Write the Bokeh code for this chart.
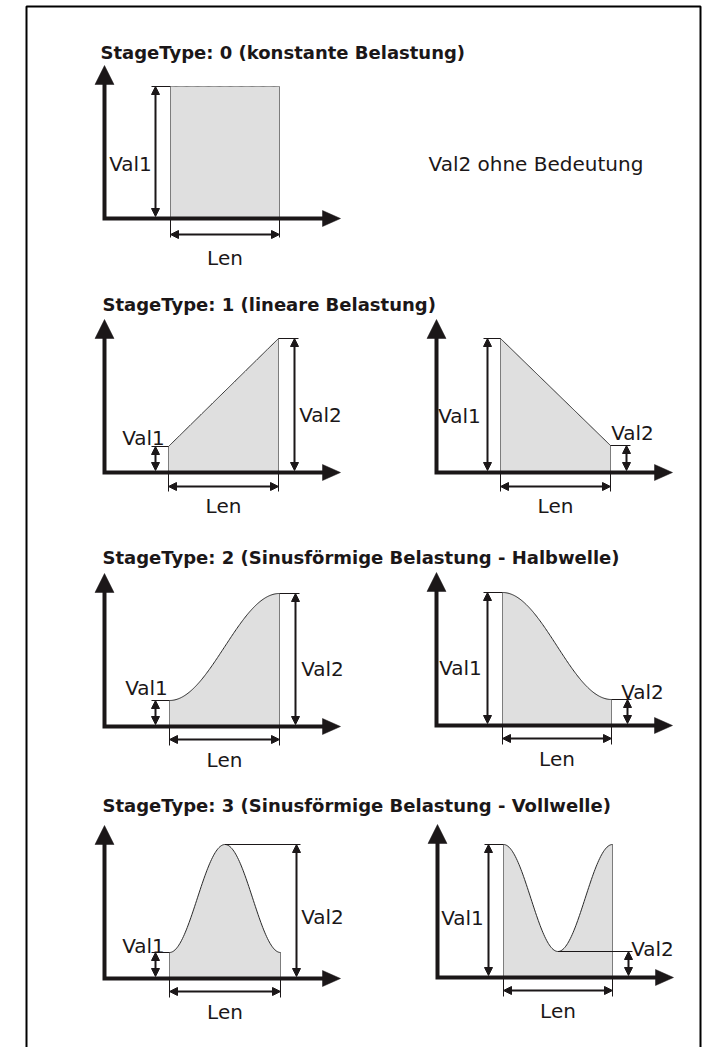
import numpy as np
from bokeh.plotting import figure
from bokeh.models import Range1d, Arrow, NormalHead, ColumnDataSource
from bokeh.core.properties import value
from bokeh.embed import file_html
from bokeh.resources import INLINE

# ---------------- data ----------------
stage_titles = [
    "StageType: 0 (konstante Belastung)",
    "StageType: 1 (lineare Belastung)",
    "StageType: 2 (Sinusförmige Belastung - Halbwelle)",
    "StageType: 3 (Sinusförmige Belastung - Vollwelle)",
]
note_text = "Val2 ohne Bedeutung"
label_val1 = "Val1"
label_val2 = "Val2"
label_len = "Len"

# one entry per small diagram (stage 0; stage 1 rising/falling; stage 2 rising/falling; stage 3 peak/trough)
panel_type = [0, 1, 1, 2, 2, 3, 3]
panel_val1 = [132, 26, 134, 26, 133, 26, 133]
panel_val2 = [None, 134, 27, 133, 26, 134, 26]   # stage 0: Val2 ohne Bedeutung
panel_start = [66, 64, 64, 65, 66, 65, 66]
panel_len = [109, 110, 110, 110, 109, 111, 109]

# ---------------- layout (pixel positions) ----------------
W, H = 715, 1047
origin_x = [104, 104, 436, 104, 436, 104, 437]
axis_y = [218, 472, 472, 726, 725, 978, 977]
title_pos = [(100, 52), (102, 304), (102, 557), (102, 805)]
note_pos = (428, 163)
val1_lab = [(130, 163), (143, 437), (459, 415), (146, 687), (460, 667), (143, 945), (462, 917)]
val2_lab = [None, (320, 414), (632, 432), (322, 668), (642, 691), (322, 916), (652, 948)]
len_lab_y = [257, 505, 505, 759, 758, 1011, 1010]
len_arrow_dy = [16, 14, 14, 13, 13, 13, 13]
Y_AXIS_LEN, X_AXIS_LEN = 153, 236
DIM1_DX, DIM2_DX = 51, 16

FONT = value("DejaVu Sans")
INK = "#1b1718"

p = figure(width=W, height=H, x_range=Range1d(0, W), y_range=Range1d(H, 0),
           x_axis_type=None, y_axis_type=None, toolbar_location=None,
           output_backend="svg", min_border=0, outline_line_color=None,
           background_fill_color="white", border_fill_color="white")

# outer frame
p.line([26, 26, 700, 700], [1060, 6, 6, 1060], line_color="black", line_width=2)

# titles
p.text(x=[t[0] for t in title_pos], y=[t[1] for t in title_pos], text=stage_titles,
       text_font=FONT, text_font_size="18px", text_font_style="bold",
       text_color=INK, text_baseline="alphabetic", text_align="left")
p.text(x=[note_pos[0]], y=[note_pos[1]], text=[note_text], text_font=FONT,
       text_font_size="20px", text_color=INK, text_baseline="alphabetic", text_align="left")


def profile(kind, v1, v2, t):
    if kind == 0:
        return np.full_like(t, float(v1))
    if kind == 1:
        return v1 + (v2 - v1) * t
    if kind == 2:
        return v1 + (v2 - v1) * (1 - np.cos(np.pi * t)) / 2
    return v1 + (v2 - v1) * (1 - np.cos(2 * np.pi * t)) / 2


dims = dict(x0=[], y0=[], x1=[], y1=[])
ext = dict(xs=[], ys=[])
lab = dict(x=[], y=[], text=[])

for i, kind in enumerate(panel_type):
    ox, ay = origin_x[i], axis_y[i]
    v1, v2 = panel_val1[i], panel_val2[i]
    s, L = panel_start[i], panel_len[i]
    t = np.linspace(0, 1, 120)
    vv = profile(kind, v1, v2 if v2 is not None else v1, t)
    cx = ox + s + L * t
    cy = ay - vv
    x0, x1 = ox + s, ox + s + L

    # shaded load area
    p.patch(np.concatenate([[x0], cx, [x1]]), np.concatenate([[ay], cy, [ay]]),
            fill_color="#dfdfdf", line_color=None)
    p.line([x0, x0], [ay, cy[0]], line_color="#7d7d7d", line_width=1)
    p.line([x1, x1], [ay, cy[-1]], line_color="#7d7d7d", line_width=1)
    p.line(cx, cy, line_color="#7d7d7d" if kind == 0 else "#2a2a2a", line_width=1)

    # axes (L-shape + arrow heads)
    p.line([ox, ox, ox + X_AXIS_LEN - 17], [ay - Y_AXIS_LEN + 17, ay, ay],
           line_color=INK, line_width=4, line_join="miter")
    p.patch([ox, ox - 9.5, ox + 9.5], [ay - Y_AXIS_LEN, ay - Y_AXIS_LEN + 19, ay - Y_AXIS_LEN + 19],
            fill_color=INK, line_color=INK, line_width=0.5)
    p.patch([ox + X_AXIS_LEN, ox + X_AXIS_LEN - 18, ox + X_AXIS_LEN - 18], [ay, ay - 8, ay + 8],
            fill_color=INK, line_color=INK, line_width=0.5)

    # Val1 dimension
    d1 = ox + DIM1_DX
    dims["x0"].append(d1); dims["y0"].append(ay - 2)
    dims["x1"].append(d1); dims["y1"].append(ay - v1)
    ext["xs"].append([d1 - 4, x0]); ext["ys"].append([ay - v1, ay - v1])
    lab["x"].append(val1_lab[i][0]); lab["y"].append(val1_lab[i][1]); lab["text"].append(label_val1)

    # Val2 dimension
    if v2 is not None:
        d2 = x1 + DIM2_DX
        ix = ox + s + L * 0.5 if kind == 3 else x1
        dims["x0"].append(d2); dims["y0"].append(ay - 2)
        dims["x1"].append(d2); dims["y1"].append(ay - v2)
        ext["xs"].append([ix, d2 + 4]); ext["ys"].append([ay - v2, ay - v2])
        lab["x"].append(val2_lab[i][0]); lab["y"].append(val2_lab[i][1]); lab["text"].append(label_val2)

    # Len dimension
    ly = ay + len_arrow_dy[i]
    dims["x0"].append(x0); dims["y0"].append(ly)
    dims["x1"].append(x1); dims["y1"].append(ly)
    ext["xs"].append([x0, x0]); ext["ys"].append([ay, ay + 19])
    ext["xs"].append([x1, x1]); ext["ys"].append([ay, ay + 19])
    lab["x"].append(ox + s + L / 2); lab["y"].append(len_lab_y[i]); lab["text"].append(label_len)

p.multi_line(xs=ext["xs"], ys=ext["ys"], line_color=INK, line_width=1)

dim_src = ColumnDataSource(dims)
p.add_layout(Arrow(x_start="x0", y_start="y0", x_end="x1", y_end="y1", source=dim_src,
                   line_color=INK, line_width=2,
                   start=NormalHead(size=8, fill_color=INK, line_color=INK, line_width=1),
                   end=NormalHead(size=8, fill_color=INK, line_color=INK, line_width=1)))

p.text(x="x", y="y", text="text", source=ColumnDataSource(lab), text_font=FONT,
       text_font_size="20px", text_color=INK, text_baseline="alphabetic", text_align="center")

open("out.html", "w").write(file_html(p, INLINE))
